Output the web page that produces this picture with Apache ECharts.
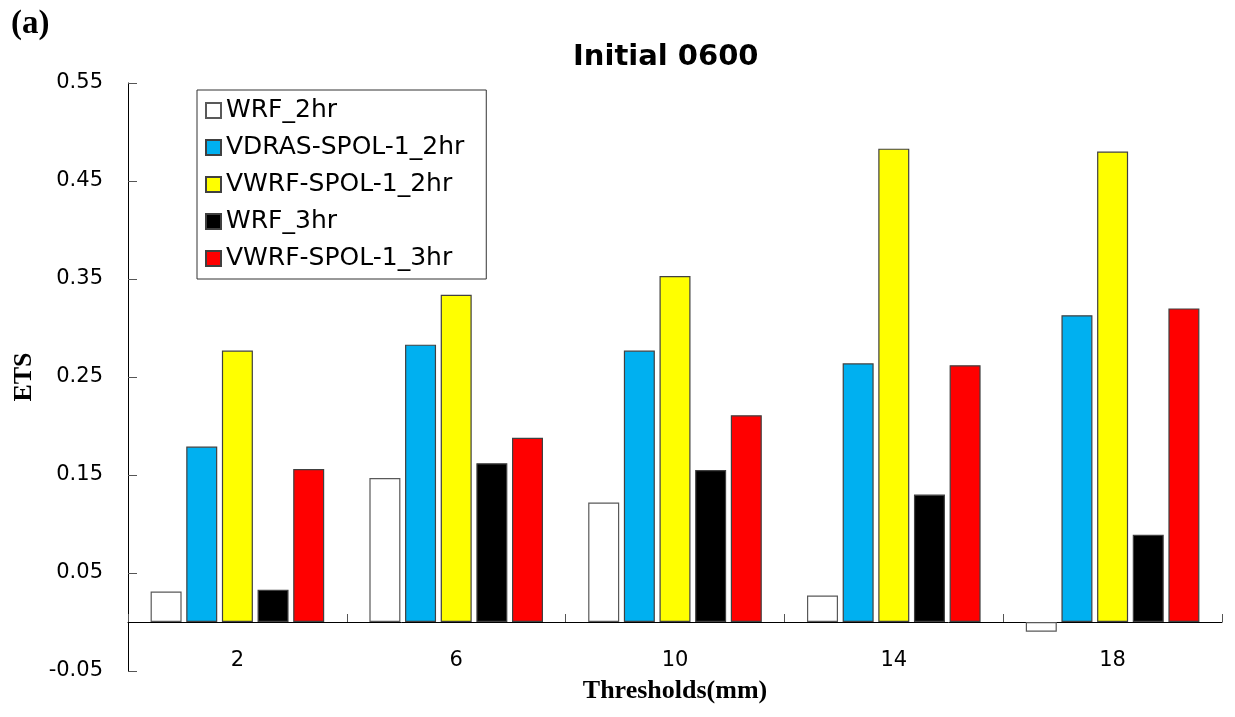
<!DOCTYPE html>
<html>
<head>
<meta charset="utf-8">
<script src="https://cdn.jsdelivr.net/npm/echarts@6/dist/echarts.min.js"></script>
<style>html,body{margin:0;padding:0;background:#fff;}#c{width:1235px;height:717px;}</style>
</head>
<body>
<div id="c"></div>
<script>
const categories = ['2', '6', '10', '14', '18'];
const seriesNames = ['WRF_2hr', 'VDRAS-SPOL-1_2hr', 'VWRF-SPOL-1_2hr', 'WRF_3hr', 'VWRF-SPOL-1_3hr'];
const wrf2 = [0.031, 0.147, 0.122, 0.027, -0.010];
const vdras2 = [0.179, 0.283, 0.277, 0.264, 0.313];
const vwrf2 = [0.277, 0.334, 0.353, 0.483, 0.480];
const wrf3 = [0.033, 0.162, 0.155, 0.130, 0.089];
const vwrf3 = [0.156, 0.188, 0.211, 0.262, 0.320];
const yTicks = [-0.05, 0.05, 0.15, 0.25, 0.35, 0.45, 0.55];

const colors = ['#FFFFFF', '#00B0F0', '#FFFF00', '#000000', '#FF0000'];
const borders = ['#595959', '#404040', '#404040', '#404040', '#404040'];
const allData = [wrf2, vdras2, vwrf2, wrf3, vwrf3];

const chart = echarts.init(document.getElementById('c'), null, {renderer: 'canvas'});
chart.setOption({
  animation: false,
  backgroundColor: '#fff',
  title: [
    {text: 'Initial 0600', left: 568, top: 38, textStyle: {fontFamily: 'DejaVu Sans', fontWeight: 'bold', fontSize: 29, color: '#000'}},
    {text: '(a)', left: 6, top: 3, textStyle: {fontFamily: 'Liberation Serif', fontWeight: 'bold', fontSize: 33, color: '#000'}}
  ],
  legend: {
    orient: 'vertical', left: 197, top: 90,
    data: seriesNames,
    borderColor: '#333', borderWidth: 1,
    padding: [8, 22, 8, 8],
    itemWidth: 15, itemHeight: 15, itemGap: 12,
    icon: 'rect',
    textStyle: {fontFamily: 'DejaVu Sans', fontSize: 25, color: '#000'}
  },
  grid: {left: 128, right: 13, top: 83, bottom: 46, outerBoundsMode: 'none', containLabel: false},
  xAxis: {
    type: 'category', data: categories,
    name: 'Thresholds(mm)', nameLocation: 'middle', nameGap: 7,
    nameTextStyle: {fontFamily: 'Liberation Serif', fontWeight: 'bold', fontSize: 26, color: '#000'},
    axisLine: {onZero: true, lineStyle: {color: '#000', width: 1}},
    axisTick: {show: true, inside: false, length: -8, lineStyle: {color: '#555', width: 1}},
    axisLabel: {margin: -21, fontFamily: 'DejaVu Sans', fontSize: 21, color: '#000'}
  },
  yAxis: {
    type: 'value', min: -0.05, max: 0.55,
    name: 'ETS', nameLocation: 'middle', nameRotate: 90, nameGap: 86,
    nameTextStyle: {fontFamily: 'Liberation Serif', fontWeight: 'bold', fontSize: 26, color: '#000'},
    splitLine: {show: false},
    axisLine: {show: true, lineStyle: {color: '#000', width: 1}},
    axisTick: {show: true, inside: true, length: 9, customValues: yTicks, lineStyle: {color: '#555'}},
    axisLabel: {customValues: yTicks, margin: 25, fontFamily: 'DejaVu Sans', fontSize: 21, color: '#000',
      formatter: v => v.toFixed(2)}
  },
  series: seriesNames.map((n, i) => ({
    name: n, type: 'bar', data: allData[i],
    barWidth: 31, barGap: '15%',
    itemStyle: {color: colors[i], borderColor: borders[i], borderWidth: 1.2}
  }))
});
</script>
</body>
</html>
